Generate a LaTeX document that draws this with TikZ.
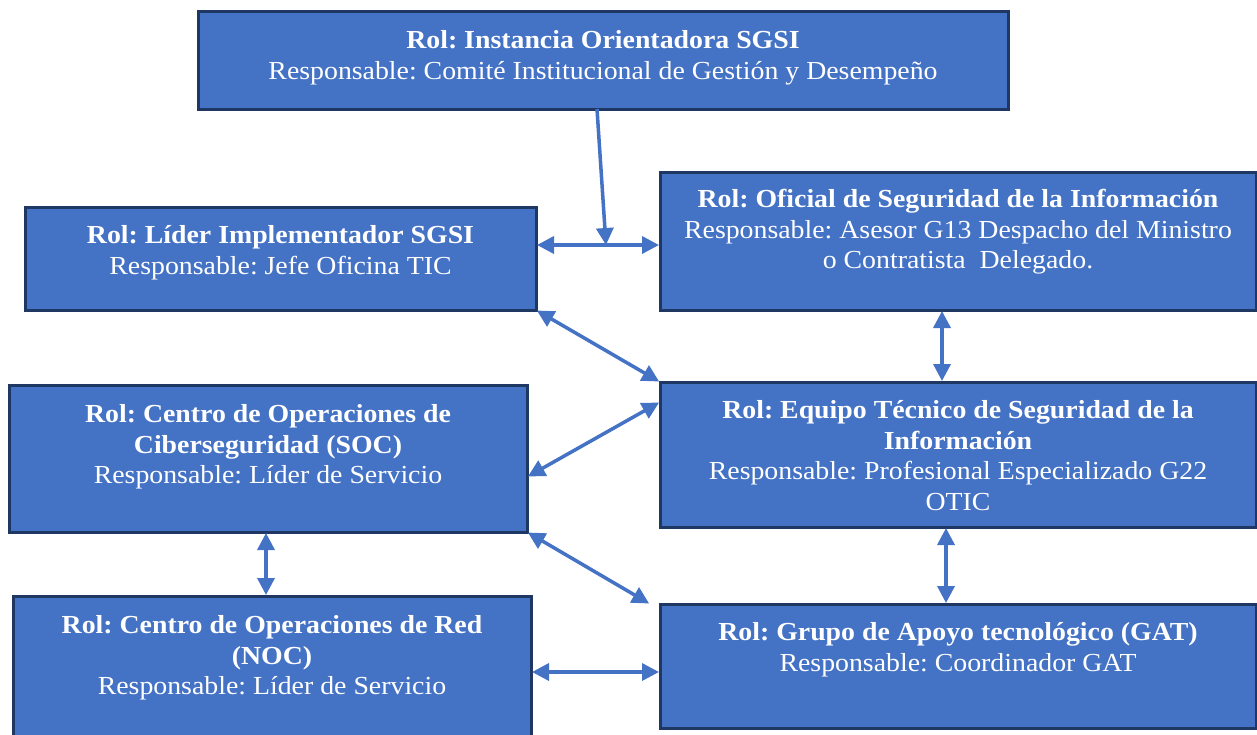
\documentclass[tikz,border=0pt]{standalone}
\usepackage{fontspec}
\setmainfont{Liberation Serif}[FakeStretch=1.07]
\usetikzlibrary{arrows.meta,calc}
\definecolor{boxfill}{HTML}{4472C4}
\definecolor{boxline}{HTML}{1F3763}
\definecolor{arrowc}{HTML}{4472C4}
\tikzset{
  rolebox/.style={draw=boxline, fill=boxfill, line width=3pt, inner sep=0pt, outer sep=0pt, anchor=north west},
  roletext/.style={text=white, align=center, inner sep=0pt, anchor=north, font=\fontsize{26}{30.8}\selectfont},
  conn/.style={draw=arrowc, line width=3.5pt, {Triangle[length=17pt,width=17pt]}-{Triangle[length=17pt,width=17pt]}, shorten <=1pt, shorten >=1pt},
  conn1/.style={draw=arrowc, line width=3.5pt, -{Triangle[length=17pt,width=17pt]}}
}
\newcommand{\fl}{\rule{0pt}{22pt}}
\frenchspacing
\begin{document}
\begin{tikzpicture}[x=1pt,y=-1pt]
\useasboundingbox (0,0) rectangle (1257,734);
% boxes
\node[rolebox, minimum width=810pt, minimum height=98pt] (b1) at (198,11) {};
\node[rolebox, minimum width=511pt, minimum height=103pt] (b2) at (25,207) {};
\node[rolebox, minimum width=596pt, minimum height=138pt] (b3) at (660,172) {};
\node[rolebox, minimum width=596pt, minimum height=145pt] (b4) at (660,382) {};
\node[rolebox, minimum width=518pt, minimum height=147pt] (b5) at (9,385) {};
\node[rolebox, minimum width=518pt, minimum height=150pt] (b6) at (13,596) {};
\node[rolebox, minimum width=596pt, minimum height=124pt] (b7) at (660,604) {};
% texts
\node[roletext] (t1) at (603,26) {\fl\textbf{Rol: Instancia Orientadora SGSI}\\Responsable: Comité Institucional de Gestión y Desempeño};
\node[roletext] (t2) at (280.5,221) {\fl\textbf{Rol: Líder Implementador SGSI}\\Responsable: Jefe Oficina TIC};
\node[roletext] (t3) at (958,185) {\fl\textbf{Rol: Oficial de Seguridad de la Información}\\Responsable: Asesor G13 Despacho del Ministro\\o Contratista\ \ Delegado.};
\node[roletext] (t4) at (958,396) {\fl\textbf{Rol: Equipo Técnico de Seguridad de la}\\\textbf{Información}\\Responsable: Profesional Especializado G22\\OTIC};
\node[roletext] (t5) at (268,400) {\fl\textbf{Rol: Centro de Operaciones de}\\\textbf{Ciberseguridad (SOC)}\\Responsable: Líder de Servicio};
\node[roletext] (t6) at (272,611) {\fl\textbf{Rol: Centro de Operaciones de Red}\\\textbf{(NOC)}\\Responsable: Líder de Servicio};
\node[roletext] (t7) at (958,618) {\fl\textbf{Rol: Grupo de Apoyo tecnológico (GAT)}\\Responsable: Coordinador GAT};
% connectors
\coordinate (mid) at (606,245);
\draw[conn1] ([xshift=-6pt]b1.south) -- (mid);
\draw[conn] (b2.east |- mid) -- (b3.west |- mid);
\draw[conn] (b2.south east) -- (b4.north west);
\draw[conn] ([xshift=-16pt]b3.south) -- ([xshift=-16pt]b4.north);
\draw[conn] ([yshift=-20pt]b4.north west) -- ([yshift=-18.5pt]b5.east);
\draw[conn] (b5.south east) -- ([xshift=-10pt]b7.north west);
\draw[conn] ([xshift=-12pt]b4.south) -- ([xshift=-12pt]b7.north);
\draw[conn] ([xshift=-2pt]b5.south) -- ([xshift=-2pt]b5.south |- b6.north);
\draw[conn] ([yshift=-1pt]b6.east) -- ([yshift=-1pt]b6.east -| b7.west);
\end{tikzpicture}
\end{document}
